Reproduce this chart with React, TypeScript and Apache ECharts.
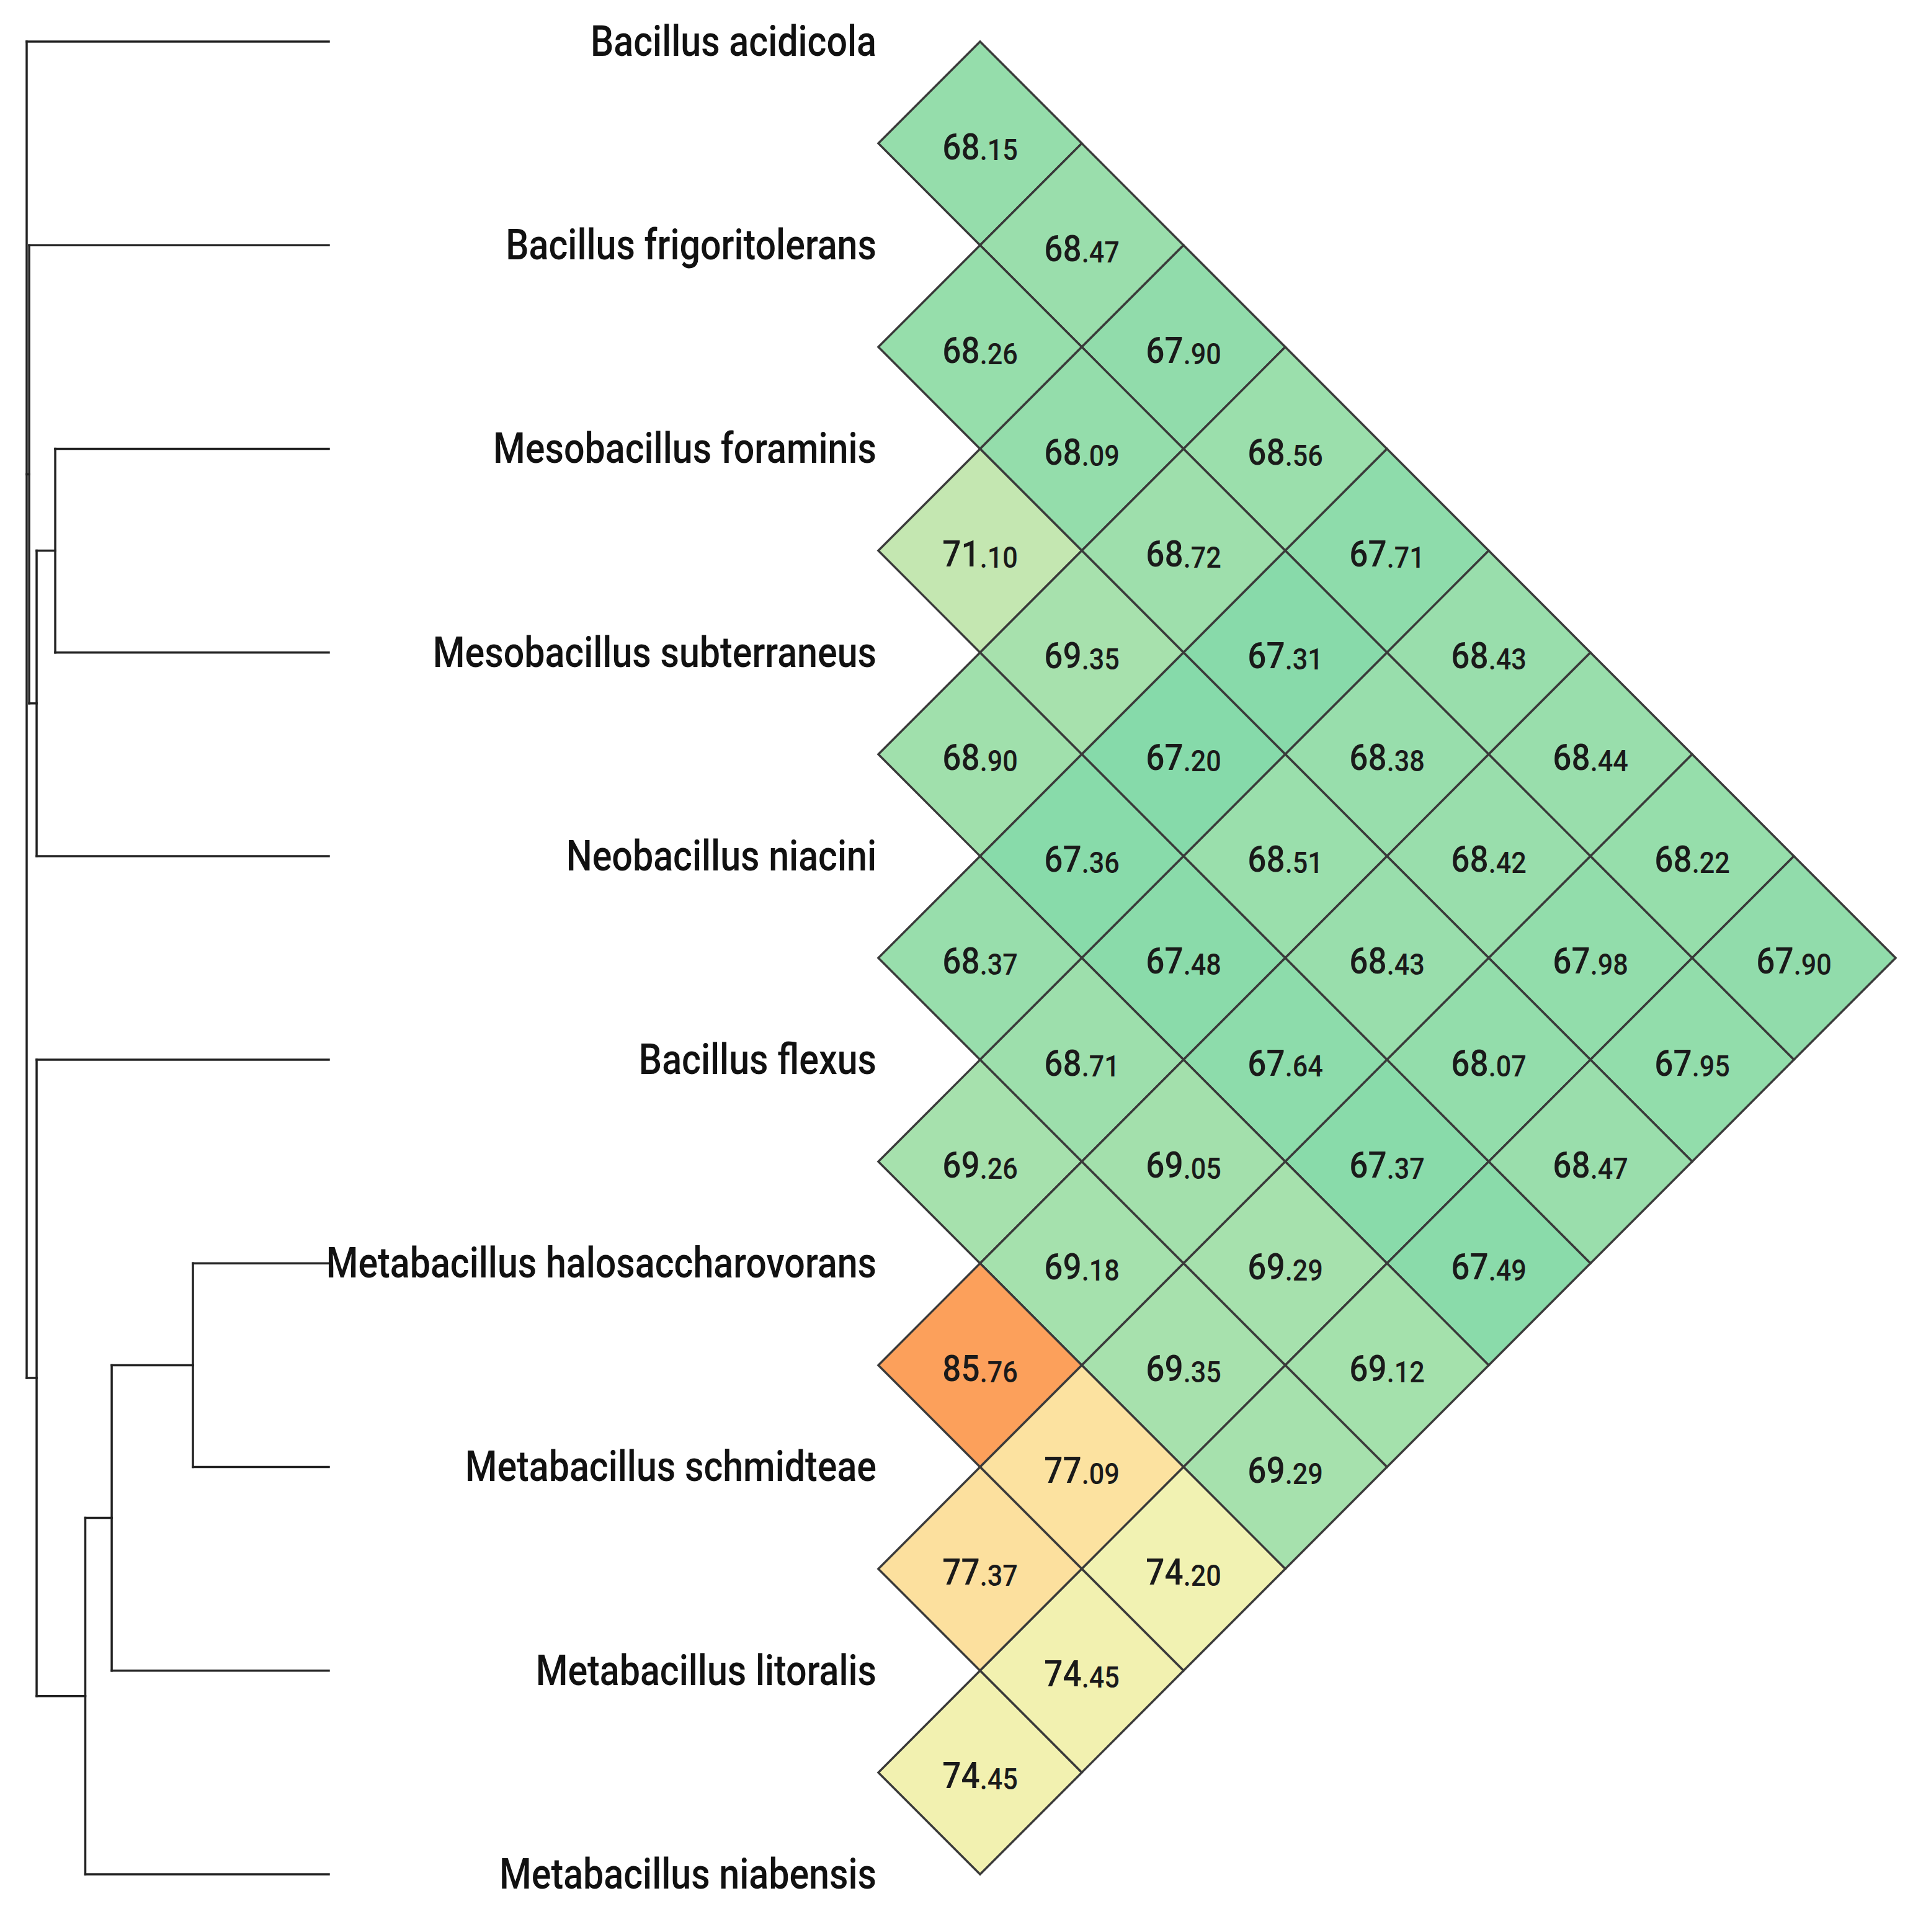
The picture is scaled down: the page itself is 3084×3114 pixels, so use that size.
import React, { useEffect, useRef } from "react";
import * as echarts from "echarts";

// Leaves, top to bottom (leaf index 1..10)
const species = [
  "Bacillus acidicola",
  "Bacillus frigoritolerans",
  "Mesobacillus foraminis",
  "Mesobacillus subterraneus",
  "Neobacillus niacini",
  "Bacillus flexus",
  "Metabacillus halosaccharovorans",
  "Metabacillus schmidteae",
  "Metabacillus litoralis",
  "Metabacillus niabensis",
];

// Pairwise values (leaf i < leaf j)
const pairI = [1, 1, 1, 1, 1, 1, 1, 1, 1, 2, 2, 2, 2, 2, 2, 2, 2, 3, 3, 3, 3, 3, 3, 3, 4, 4, 4, 4, 4, 4, 5, 5, 5, 5, 5, 6, 6, 6, 6, 7, 7, 7, 8, 8, 9];
const pairJ = [2, 3, 4, 5, 6, 7, 8, 9, 10, 3, 4, 5, 6, 7, 8, 9, 10, 4, 5, 6, 7, 8, 9, 10, 5, 6, 7, 8, 9, 10, 6, 7, 8, 9, 10, 7, 8, 9, 10, 8, 9, 10, 9, 10, 10];
const aniValues = [
  68.15, 68.47, 67.9, 68.56, 67.71, 68.43, 68.44, 68.22, 67.9,
  68.26, 68.09, 68.72, 67.31, 68.38, 68.42, 67.98, 67.95,
  71.1, 69.35, 67.2, 68.51, 68.43, 68.07, 68.47,
  68.9, 67.36, 67.48, 67.64, 67.37, 67.49,
  68.37, 68.71, 69.05, 69.29, 69.12,
  69.26, 69.18, 69.35, 69.29,
  85.76, 77.09, 74.2,
  77.37, 74.45,
  74.45,
];

// Dendrogram (node heights, children)
const nodeNames = ["n78", "n789", "n7to10", "n34", "n345", "n6to10", "nP", "root"];
const nodeHeights = [0.146, 0.2333, 0.2617, 0.294, 0.314, 0.314, 0.322, 0.3247];
const nodeChildren = [
  ["L7", "L8"],
  ["n78", "L9"],
  ["n789", "L10"],
  ["L3", "L4"],
  ["n34", "L5"],
  ["L6", "n7to10"],
  ["L2", "n345"],
  ["L1", "nP", "n6to10"],
];

// Colour ramp for the values
const colorMin = 67.2;
const colorMax = 85.76;
const rampColors = ["#86daaa", "#aae2ad", "#d0eab3", "#f1f2b2", "#fbe6a4", "#fdd694", "#fdc481", "#fcb26e", "#fca05b"];

function buildSegments() {
  const pos: Record<string, { h: number; y: number }> = {};
  species.forEach((_, k) => (pos["L" + (k + 1)] = { h: 0, y: k + 1 }));
  const segs: number[][] = [];
  nodeNames.forEach((name, n) => {
    const h = nodeHeights[n];
    const kids = nodeChildren[n].map((c) => pos[c]);
    const ys = kids.map((k) => k.y);
    const ymin = Math.min(...ys);
    const ymax = Math.max(...ys);
    segs.push([h, ymin, h, ymax]);
    kids.forEach((k) => segs.push([h, k.y, k.h, k.y]));
    pos[name] = { h, y: (ymin + ymax) / 2 };
  });
  return segs;
}

export default function App() {
  const ref = useRef<HTMLDivElement>(null);
  useEffect(() => {
    if (!ref.current) return;
    const chart = echarts.init(ref.current, undefined, { renderer: "svg" });
    const segs = buildSegments();
    const cells = aniValues.map((v, n) => [pairJ[n] - pairI[n], (pairI[n] + pairJ[n]) / 2, v]);
    const leafData = species.map((_, k) => [0, k + 1]);
    const rootH = Math.max(...nodeHeights);

    chart.setOption({
      animation: false,
      backgroundColor: "#ffffff",
      grid: [
        { left: 43, top: 67, width: 487, height: 2954 },
        { left: 1416, top: 67, width: 1640, height: 2954 },
      ],
      xAxis: [
        { type: "value", gridIndex: 0, min: 0, max: rootH, inverse: true, show: false },
        { type: "value", gridIndex: 1, min: 0, max: 10, show: false },
      ],
      yAxis: [
        { type: "value", gridIndex: 0, min: 1, max: 10, inverse: true, show: false },
        { type: "value", gridIndex: 1, min: 1, max: 10, inverse: true, show: false },
      ],
      visualMap: {
        type: "continuous",
        show: false,
        seriesIndex: 1,
        dimension: 2,
        min: colorMin,
        max: colorMax,
        inRange: { color: rampColors },
      },
      series: [
        {
          type: "custom",
          xAxisIndex: 0,
          yAxisIndex: 0,
          data: segs,
          encode: { x: [0, 2], y: [1, 3] },
          renderItem: (params: any, api: any) => {
            const p1 = api.coord([api.value(0), api.value(1)]);
            const p2 = api.coord([api.value(2), api.value(3)]);
            return {
              type: "line",
              shape: { x1: p1[0], y1: p1[1], x2: p2[0], y2: p2[1] },
              style: { stroke: "#222222", lineWidth: 3.5, lineCap: "square" },
            };
          },
        },
        {
          type: "custom",
          xAxisIndex: 1,
          yAxisIndex: 1,
          data: cells,
          encode: { x: 0, y: 1 },
          renderItem: (params: any, api: any) => {
            const d = api.value(0);
            const yc = api.value(1);
            const v = api.value(2);
            const pts = [
              api.coord([d - 1, yc]),
              api.coord([d, yc - 0.5]),
              api.coord([d + 1, yc]),
              api.coord([d, yc + 0.5]),
            ];
            const c = api.coord([d, yc]);
            const parts = Number(v).toFixed(2).split(".");
            return {
              type: "group",
              children: [
                {
                  type: "polygon",
                  shape: { points: pts },
                  style: { fill: api.visual("color"), stroke: "#3a3a3a", lineWidth: 3.5 },
                },
                {
                  type: "text",
                  x: c[0],
                  y: c[1] + 5,
                  scaleX: 0.9,
                  style: {
                    text: "{a|" + parts[0] + "}{b|." + parts[1] + "}",
                    align: "center",
                    verticalAlign: "middle",
                    rich: {
                      a: { fontSize: 59, fontFamily: "Roboto", fontWeight: 500, fill: "#1a1a1a", verticalAlign: "bottom", lineHeight: 60 },
                      b: { fontSize: 48, fontFamily: "Roboto", fontWeight: 500, fill: "#1a1a1a", verticalAlign: "bottom", lineHeight: 49 },
                    },
                  },
                },
              ],
            };
          },
        },
        {
          type: "custom",
          xAxisIndex: 1,
          yAxisIndex: 1,
          data: leafData,
          encode: { x: 0, y: 1 },
          renderItem: (params: any, api: any) => {
            const p = api.coord([api.value(0), api.value(1)]);
            return {
              type: "text",
              x: p[0] - 3,
              y: p[1],
              scaleX: 0.87,
              style: {
                text: species[params.dataIndex],
                fontSize: 68,
                fontFamily: "Roboto",
                fontWeight: 500,
                fill: "#111111",
                align: "right",
                verticalAlign: "middle",
              },
            };
          },
        },
      ],
    });
    return () => chart.dispose();
  }, []);
  return (
    <div
      ref={ref}
      style={{ position: "absolute", left: 0, top: 0, width: 3084, height: 3114, background: "#ffffff" }}
    />
  );
}
